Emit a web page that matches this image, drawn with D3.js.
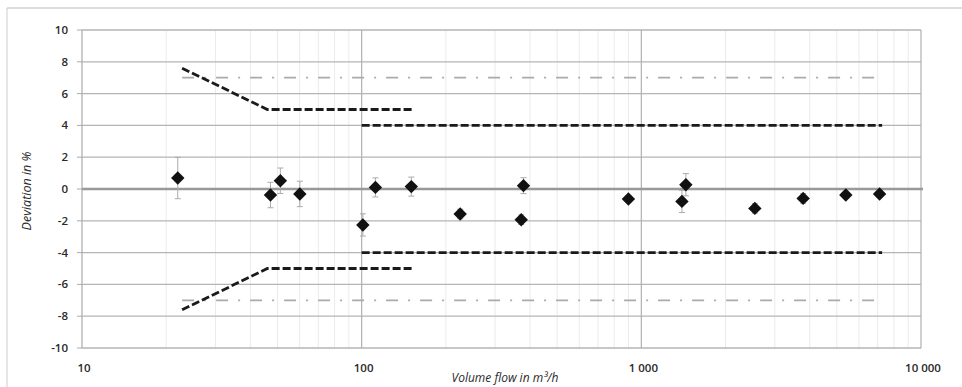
<!DOCTYPE html>
<html><head><meta charset="utf-8">
<script src="https://cdn.jsdelivr.net/npm/d3@7"></script>
<style>html,body{margin:0;padding:0;background:#fff;}svg{display:block;}</style>
</head><body>
<script>
// ---- data ----
const flows      = [22, 47.2, 51.2, 60.1, 101, 112, 150.5, 225, 372, 379, 899, 1397, 1443, 2546, 3790, 5385, 7110];
const deviations = [0.69, -0.38, 0.52, -0.31, -2.26, 0.10, 0.15, -1.57, -1.93, 0.21, -0.63, -0.78, 0.27, -1.22, -0.59, -0.38, -0.31];
const errors     = [1.3, 0.8, 0.8, 0.8, 0.7, 0.6, 0.6, 0.3, 0.3, 0.5, 0.2, 0.7, 0.7, 0.3, 0.3, 0.2, 0.2];
const upperLimitQ = [22.8, 46, 152];
const upperLimitV = [7.6, 5, 5];
const lowerLimitQ = [22.8, 46, 152];
const lowerLimitV = [-7.6, -5, -5];
const limit4Q = [100, 7260];
const limit4Upper = [4, 4];
const limit4Lower = [-4, -4];
const dashDotQ = [22.8, 7260];
const dashDotUpper = [7, 7];
const dashDotLower = [-7, -7];
const yTicks = [10, 8, 6, 4, 2, 0, -2, -4, -6, -8, -10];
const xTicks = [10, 100, 1000, 10000];
const xTickLabels = ["10", "100", "1 000", "10 000"];
const xTitle = "Volume flow in m³/h";
const yTitle = "Deviation in %";

const W = 962, H = 387;
const svg = d3.select("body").append("svg").attr("width", W).attr("height", H);
const FONT = "'Open Sans', Lato, sans-serif";

// outer frame
svg.append("line").attr("x1", 7).attr("x2", W).attr("y1", 8).attr("y2", 8).attr("stroke", "#bbb").attr("stroke-width", 1);
svg.append("line").attr("x1", 7).attr("x2", 7).attr("y1", 8).attr("y2", H).attr("stroke", "#ccc").attr("stroke-width", 1);

const x = d3.scaleLog().domain([10, 10000]).range([82, 921]);
const y = d3.scaleLinear().domain([-10, 10]).range([348, 30]);

const g = svg.append("g");

// minor vertical grid
const minor = [];
for (let dec = 10; dec < 10000; dec *= 10) for (let k = 2; k <= 9; k++) minor.push(dec * k);
g.selectAll(".vminor").data(minor).join("line")
  .attr("x1", d => x(d)).attr("x2", d => x(d)).attr("y1", y(10)).attr("y2", y(-10))
  .attr("stroke", "#ebebeb").attr("stroke-width", 1);

// horizontal grid
g.selectAll(".hgrid").data(yTicks.filter(d => d !== 0)).join("line")
  .attr("x1", x(10)).attr("x2", x(10000)).attr("y1", d => y(d)).attr("y2", d => y(d))
  .attr("stroke", "#b5b5b5").attr("stroke-width", 1.3);

// major vertical grid
g.selectAll(".vmajor").data([100, 1000, 10000]).join("line")
  .attr("x1", d => x(d)).attr("x2", d => x(d)).attr("y1", y(10)).attr("y2", y(-10))
  .attr("stroke", "#b0b0b0").attr("stroke-width", 1.2);

// left axis line
g.append("line").attr("x1", x(10)).attr("x2", x(10)).attr("y1", y(10)).attr("y2", y(-10))
  .attr("stroke", "#aaa").attr("stroke-width", 1.2);
// y tick marks
g.selectAll(".ytick").data(yTicks).join("line")
  .attr("x1", x(10) - 5).attr("x2", x(10)).attr("y1", d => y(d)).attr("y2", d => y(d))
  .attr("stroke", "#aaa");

// zero line
g.append("line").attr("x1", x(10)).attr("x2", x(10000) + 2).attr("y1", y(0)).attr("y2", y(0))
  .attr("stroke", "#999").attr("stroke-width", 2.5);

// dash-dot lines
const line = d3.line().x(d => x(d[0])).y(d => y(d[1]));
[dashDotUpper, dashDotLower].forEach(v => {
  g.append("path").attr("d", line(dashDotQ.map((q, i) => [q, v[i]])))
    .attr("fill", "none").attr("stroke", "#aaaaaa").attr("stroke-width", 1.8)
    .attr("stroke-dasharray", "12,10,2,10");
});

// limit dashed lines
[[upperLimitQ, upperLimitV], [lowerLimitQ, lowerLimitV], [limit4Q, limit4Upper], [limit4Q, limit4Lower]].forEach(([qs, vs]) => {
  g.append("path").attr("d", line(qs.map((q, i) => [q, vs[i]])))
    .attr("fill", "none").attr("stroke", "#1a1a1a").attr("stroke-width", 2.8)
    .attr("stroke-dasharray", "8,3");
});

// error bars
const eb = g.selectAll(".eb").data(flows.map((q, i) => ({q, v: deviations[i], e: errors[i]}))).join("g");
eb.append("line").attr("x1", d => x(d.q)).attr("x2", d => x(d.q))
  .attr("y1", d => y(d.v + d.e)).attr("y2", d => y(d.v - d.e)).attr("stroke", "#aaa").attr("stroke-width", 1);
eb.append("line").attr("x1", d => x(d.q) - 3).attr("x2", d => x(d.q) + 3)
  .attr("y1", d => y(d.v + d.e)).attr("y2", d => y(d.v + d.e)).attr("stroke", "#aaa");
eb.append("line").attr("x1", d => x(d.q) - 3).attr("x2", d => x(d.q) + 3)
  .attr("y1", d => y(d.v - d.e)).attr("y2", d => y(d.v - d.e)).attr("stroke", "#aaa");

// diamonds
const sq = d3.symbol().type(d3.symbolSquare).size(90);
g.selectAll(".pt").data(flows.map((q, i) => [q, deviations[i]])).join("path")
  .attr("d", sq)
  .attr("transform", d => `translate(${x(d[0])},${y(d[1])}) rotate(45)`)
  .attr("fill", "#111");

// y tick labels
g.selectAll(".ylab").data(yTicks).join("text")
  .attr("x", 68).attr("y", d => y(d)).attr("dy", "0.35em")
  .attr("text-anchor", "end").attr("font-family", FONT).attr("font-weight", 600)
  .attr("font-size", 11.5).attr("fill", "#2a2a2a").text(d => d);

// x tick labels
g.selectAll(".xlab").data(xTicks).join("text")
  .attr("x", d => x(d) + 2).attr("y", 372)
  .attr("text-anchor", "middle").attr("font-family", FONT).attr("font-weight", 600)
  .attr("font-size", 11.5).attr("fill", "#2a2a2a").text((d, i) => xTickLabels[i]);

// axis titles
svg.append("text").attr("x", 505).attr("y", 382).attr("text-anchor", "middle")
  .attr("font-family", FONT).attr("font-style", "italic")
  .attr("font-size", 12).attr("fill", "#2a2a2a").text(xTitle);
svg.append("text").attr("transform", "translate(31,191) rotate(-90)").attr("text-anchor", "middle")
  .attr("font-family", FONT).attr("font-style", "italic")
  .attr("font-size", 12.5).attr("fill", "#2a2a2a").text(yTitle);
</script>
</body></html>
